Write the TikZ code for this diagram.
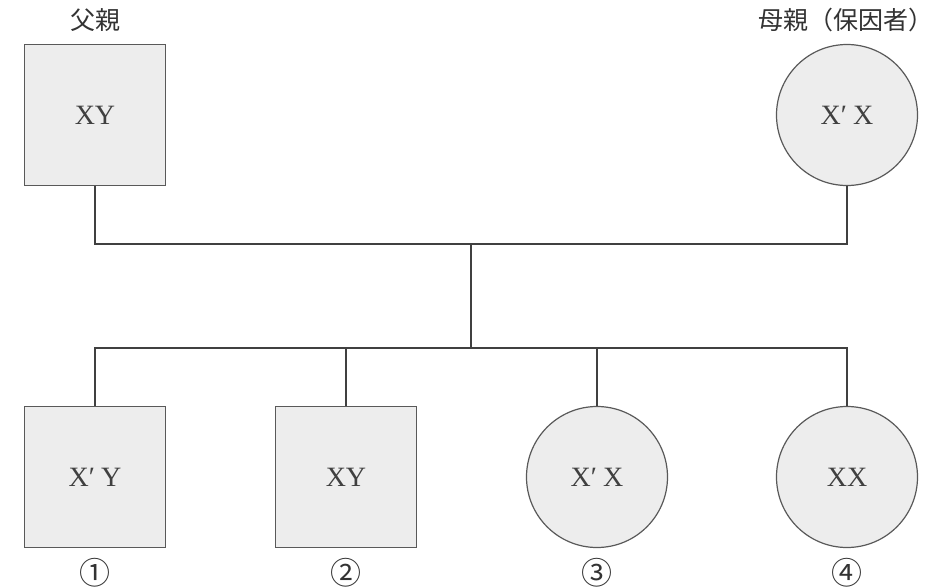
\documentclass[tikz,border=0pt]{standalone}
\usepackage{fontspec}
\setmainfont{Liberation Serif}
\newfontfamily\jpfont{Noto Sans CJK JP}
\begin{document}
\begin{tikzpicture}[x=1pt,y=-1pt,
  person/.style={draw=black!65, line width=1.2pt, fill=black!7, minimum size=141pt, inner sep=0pt,
    font=\fontsize{28}{30}\selectfont, text=black!75},
  male/.style={person, rectangle},
  female/.style={person, circle},
  lab/.style={font=\jpfont\fontsize{25}{28}\selectfont, text=black!80, inner sep=0pt},
  num/.style={font=\jpfont\fontsize{31}{33}\selectfont, text=black!80, inner sep=0pt},
  link/.style={draw=black!75, line width=1.5pt}]
\useasboundingbox (0,0) rectangle (940,587);
\node[male] (father) at (95,115) {XY};
\node[female] (mother) at (847,115) {X′\kern6pt X};
\node[lab] (lf) at (95,20) {父親};
\node[lab] (lm) at (846,20) {母親（保因者）};
\coordinate (j1) at (471,244);
\coordinate (j2) at (471,348);
\node[male] (c1) at (95,477) {X′\kern6pt Y};
\node[male] (c2) at (346,477) {XY};
\node[female] (c3) at (597,477) {X′\kern6pt X};
\node[female] (c4) at (847,477) {XX};
\node[num] (n1) at (95,573) {①};
\node[num] (n2) at (346,573) {②};
\node[num] (n3) at (597,573) {③};
\node[num] (n4) at (847,573) {④};
\draw[link] (father.south) |- (j1) -| (mother.south);
\draw[link] (j1) -- (j2);
\draw[link] (c1.north) |- (j2) -| (c4.north);
\draw[link] (c2.north) -- (c2.north |- j2);
\draw[link] (c3.north) -- (c3.north |- j2);
\end{tikzpicture}
\end{document}
